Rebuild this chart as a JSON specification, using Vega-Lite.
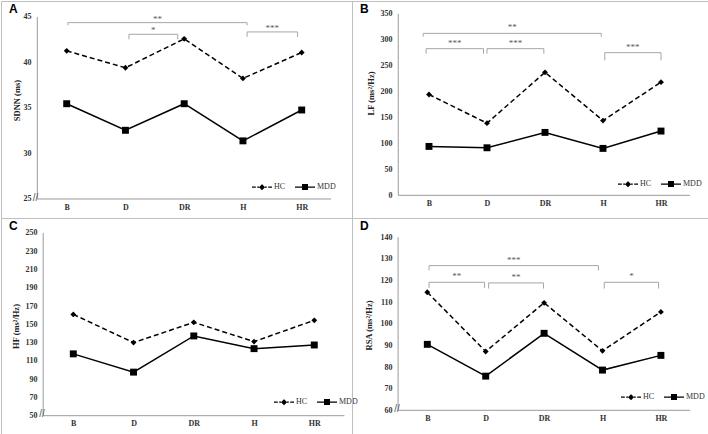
{
  "$schema": "https://vega.github.io/schema/vega-lite/v6.json",
  "padding": 0,
  "background": "white",
  "columns": 2,
  "spacing": 0,
  "bounds": "flush",
  "align": "each",
  "datasets": {
    "series": [
      {"panel": "A", "cond": "B", "i": 0, "group": "HC", "value": 41.28},
      {"panel": "A", "cond": "D", "i": 1, "group": "HC", "value": 39.42},
      {"panel": "A", "cond": "DR", "i": 2, "group": "HC", "value": 42.6},
      {"panel": "A", "cond": "H", "i": 3, "group": "HC", "value": 38.25},
      {"panel": "A", "cond": "HR", "i": 4, "group": "HC", "value": 41.1},
      {"panel": "A", "cond": "B", "i": 0, "group": "MDD", "value": 35.47},
      {"panel": "A", "cond": "D", "i": 1, "group": "MDD", "value": 32.55},
      {"panel": "A", "cond": "DR", "i": 2, "group": "MDD", "value": 35.47},
      {"panel": "A", "cond": "H", "i": 3, "group": "MDD", "value": 31.39},
      {"panel": "A", "cond": "HR", "i": 4, "group": "MDD", "value": 34.78},
      {"panel": "B", "cond": "B", "i": 0, "group": "HC", "value": 194.2},
      {"panel": "B", "cond": "D", "i": 1, "group": "HC", "value": 139},
      {"panel": "B", "cond": "DR", "i": 2, "group": "HC", "value": 237},
      {"panel": "B", "cond": "H", "i": 3, "group": "HC", "value": 144},
      {"panel": "B", "cond": "HR", "i": 4, "group": "HC", "value": 218},
      {"panel": "B", "cond": "B", "i": 0, "group": "MDD", "value": 94.2},
      {"panel": "B", "cond": "D", "i": 1, "group": "MDD", "value": 91.6},
      {"panel": "B", "cond": "DR", "i": 2, "group": "MDD", "value": 121.2},
      {"panel": "B", "cond": "H", "i": 3, "group": "MDD", "value": 90.4},
      {"panel": "B", "cond": "HR", "i": 4, "group": "MDD", "value": 123.8},
      {"panel": "C", "cond": "B", "i": 0, "group": "HC", "value": 160.9},
      {"panel": "C", "cond": "D", "i": 1, "group": "HC", "value": 130},
      {"panel": "C", "cond": "DR", "i": 2, "group": "HC", "value": 152.2},
      {"panel": "C", "cond": "H", "i": 3, "group": "HC", "value": 131.1},
      {"panel": "C", "cond": "HR", "i": 4, "group": "HC", "value": 154.4},
      {"panel": "C", "cond": "B", "i": 0, "group": "MDD", "value": 117.7},
      {"panel": "C", "cond": "D", "i": 1, "group": "MDD", "value": 97.7},
      {"panel": "C", "cond": "DR", "i": 2, "group": "MDD", "value": 137.3},
      {"panel": "C", "cond": "H", "i": 3, "group": "MDD", "value": 123.4},
      {"panel": "C", "cond": "HR", "i": 4, "group": "MDD", "value": 127.4},
      {"panel": "D", "cond": "B", "i": 0, "group": "HC", "value": 114.6},
      {"panel": "D", "cond": "D", "i": 1, "group": "HC", "value": 87.2},
      {"panel": "D", "cond": "DR", "i": 2, "group": "HC", "value": 109.7},
      {"panel": "D", "cond": "H", "i": 3, "group": "HC", "value": 87.5},
      {"panel": "D", "cond": "HR", "i": 4, "group": "HC", "value": 105.5},
      {"panel": "D", "cond": "B", "i": 0, "group": "MDD", "value": 90.5},
      {"panel": "D", "cond": "D", "i": 1, "group": "MDD", "value": 75.8},
      {"panel": "D", "cond": "DR", "i": 2, "group": "MDD", "value": 95.6},
      {"panel": "D", "cond": "H", "i": 3, "group": "MDD", "value": 78.6},
      {"panel": "D", "cond": "HR", "i": 4, "group": "MDD", "value": 85.4}
    ],
    "brackets": [
      {"panel": "A", "x1": 0.02, "x2": 3.07, "mid": 1.545, "y": 44.38, "yEnd": 44.09, "label": "**"},
      {"panel": "A", "x1": 1.06, "x2": 1.89, "mid": 1.475, "y": 43.1, "yEnd": 42.55, "label": "*"},
      {"panel": "A", "x1": 3.07, "x2": 3.93, "mid": 3.5, "y": 43.36, "yEnd": 42.81, "label": "***"},
      {"panel": "B", "x1": -0.1, "x2": 2.97, "mid": 1.435, "y": 312.1, "yEnd": 305.7, "label": "**"},
      {"panel": "B", "x1": -0.05, "x2": 0.94, "mid": 0.445, "y": 282.6, "yEnd": 272.9, "label": "***"},
      {"panel": "B", "x1": 1.0, "x2": 1.98, "mid": 1.49, "y": 282.6, "yEnd": 272.9, "label": "***"},
      {"panel": "B", "x1": 3.03, "x2": 4.0, "mid": 3.515, "y": 274.9, "yEnd": 260.1, "label": "***"},
      {"panel": "D", "x1": 0.03, "x2": 2.93, "mid": 1.48, "y": 126.9, "yEnd": 124.7, "label": "***"},
      {"panel": "D", "x1": 0.03, "x2": 0.98, "mid": 0.505, "y": 119.2, "yEnd": 116.6, "label": "**"},
      {"panel": "D", "x1": 1.05, "x2": 1.99, "mid": 1.52, "y": 118.9, "yEnd": 116.3, "label": "**"},
      {"panel": "D", "x1": 3.03, "x2": 3.96, "mid": 3.495, "y": 119.2, "yEnd": 116.3, "label": "*"}
    ]
  },
  "concat": [
    {
      "width": 351, "height": 217,
      "title": {"text": "A"},
      "layer": [
        {"data": {"values": [{}]}, "mark": {"type": "rule", "color": "#9a9a9a", "strokeWidth": 1},
         "encoding": {"x": {"datum": -0.5, "type": "quantitative"}, "y": {"datum": 25, "type": "quantitative"}, "y2": {"datum": 45}}},
        {"data": {"values": [{}]}, "mark": {"type": "rule", "color": "#9a9a9a", "strokeWidth": 1},
         "encoding": {"x": {"datum": -0.5, "type": "quantitative"}, "x2": {"datum": 4.5}, "y": {"datum": 25, "type": "quantitative"}}},
        {"data": {"values": [{}]}, "mark": {"type": "text", "text": "//", "font": "Liberation Sans", "fontSize": 10, "color": "#555", "align": "center", "baseline": "middle"},
         "encoding": {"x": {"datum": -0.53, "type": "quantitative"}, "y": {"datum": 25.1, "type": "quantitative"}}},
        {"data": {"name": "brackets"}, "transform": [{"filter": "datum.panel === 'A'"}],
         "layer": [
           {"mark": {"type": "rule", "color": "#a6a6a6", "strokeWidth": 1}, "encoding": {"x": {"field": "x1", "type": "quantitative"}, "x2": {"field": "x2"}, "y": {"field": "y", "type": "quantitative"}}},
           {"mark": {"type": "rule", "color": "#a6a6a6", "strokeWidth": 1}, "encoding": {"x": {"field": "x1", "type": "quantitative"}, "y": {"field": "y", "type": "quantitative"}, "y2": {"field": "yEnd"}}},
           {"mark": {"type": "rule", "color": "#a6a6a6", "strokeWidth": 1}, "encoding": {"x": {"field": "x2", "type": "quantitative"}, "y": {"field": "y", "type": "quantitative"}, "y2": {"field": "yEnd"}}},
           {"mark": {"type": "text", "font": "Liberation Serif", "fontSize": 9, "color": "#595959", "baseline": "alphabetic", "dy": -1}, "encoding": {"x": {"field": "mid", "type": "quantitative"}, "y": {"field": "y", "type": "quantitative"}, "text": {"field": "label"}}}
         ]},
        {"data": {"name": "series"}, "transform": [{"filter": "datum.panel === 'A'"}],
         "layer": [
           {"transform": [{"filter": "datum.group === 'HC'"}], "mark": {"type": "line", "color": "black", "strokeWidth": 1.5, "strokeDash": [5, 3]},
            "encoding": {
              "x": {"field": "i", "type": "quantitative", "scale": {"domain": [-1.118, 4.856], "nice": false, "zero": false},
                    "axis": {"title": null, "values": [0, 1, 2, 3, 4], "tickCount": 20, "labelExpr": "['B','D','DR','H','HR'][datum.value]", "offset": -19}},
              "y": {"field": "value", "type": "quantitative", "scale": {"domain": [22.912, 46.758], "nice": false, "zero": false},
                    "axis": {"title": "SDNN (ms)", "values": [25, 30, 35, 40, 45], "tickCount": 20, "offset": -36, "titleX": -21, "titleY": 99}}
            }},
           {"transform": [{"filter": "datum.group === 'MDD'"}], "mark": {"type": "line", "color": "black", "strokeWidth": 1.5},
            "encoding": {"x": {"field": "i", "type": "quantitative"}, "y": {"field": "value", "type": "quantitative"}}},
           {"transform": [{"filter": "datum.group === 'HC'"}], "mark": {"type": "point", "shape": "diamond", "filled": true, "color": "black", "opacity": 1, "size": 34},
            "encoding": {"x": {"field": "i", "type": "quantitative"}, "y": {"field": "value", "type": "quantitative"}}},
           {"transform": [{"filter": "datum.group === 'MDD'"}], "mark": {"type": "point", "shape": "square", "filled": true, "color": "black", "opacity": 1, "size": 48},
            "encoding": {"x": {"field": "i", "type": "quantitative"}, "y": {"field": "value", "type": "quantitative"}}},
           {"transform": [{"filter": "datum.group === 'legend only'"}], "mark": {"type": "point", "filled": false, "color": "black", "strokeWidth": 1.2, "opacity": 1, "size": 400},
            "encoding": {"shape": {"field": "group", "type": "nominal", "scale": {"domain": ["HC", "MDD"], "range": ["M-1,0L-0.62,0M-0.48,0L-0.3,0M0.3,0L0.48,0M0.62,0L1,0M0,-0.22L0.22,0L0,0.22L-0.22,0ZM-0.12,-0.1L0.12,-0.1M-0.22,0L0.22,0M-0.12,0.1L0.12,0.1", "M-1,0L1,0M-0.24,-0.24L0.24,-0.24L0.24,0.24L-0.24,0.24ZM-0.24,-0.12L0.24,-0.12M-0.24,0.12L0.24,0.12"]},
              "legend": {"legendX": 250, "legendY": 175, "encode": {"symbols": {"stroke": {"value": "black"}, "strokeWidth": {"value": 1.2}}}}}}}
         ]}
      ]
    },
    {
      "width": 356, "height": 217,
      "title": {"text": "B"},
      "layer": [
        {"data": {"values": [{}]}, "mark": {"type": "rule", "color": "#9a9a9a", "strokeWidth": 1},
         "encoding": {"x": {"datum": -0.53, "type": "quantitative"}, "y": {"datum": 0, "type": "quantitative"}, "y2": {"datum": 350}}},
        {"data": {"values": [{}]}, "mark": {"type": "rule", "color": "#9a9a9a", "strokeWidth": 1},
         "encoding": {"x": {"datum": -0.53, "type": "quantitative"}, "x2": {"datum": 4.5}, "y": {"datum": 0, "type": "quantitative"}}},
        {"data": {"name": "brackets"}, "transform": [{"filter": "datum.panel === 'B'"}],
         "layer": [
           {"mark": {"type": "rule", "color": "#a6a6a6", "strokeWidth": 1}, "encoding": {"x": {"field": "x1", "type": "quantitative"}, "x2": {"field": "x2"}, "y": {"field": "y", "type": "quantitative"}}},
           {"mark": {"type": "rule", "color": "#a6a6a6", "strokeWidth": 1}, "encoding": {"x": {"field": "x1", "type": "quantitative"}, "y": {"field": "y", "type": "quantitative"}, "y2": {"field": "yEnd"}}},
           {"mark": {"type": "rule", "color": "#a6a6a6", "strokeWidth": 1}, "encoding": {"x": {"field": "x2", "type": "quantitative"}, "y": {"field": "y", "type": "quantitative"}, "y2": {"field": "yEnd"}}},
           {"mark": {"type": "text", "font": "Liberation Serif", "fontSize": 9, "color": "#595959", "baseline": "alphabetic", "dy": -3}, "encoding": {"x": {"field": "mid", "type": "quantitative"}, "y": {"field": "y", "type": "quantitative"}, "text": {"field": "label"}}}
         ]},
        {"data": {"name": "series"}, "transform": [{"filter": "datum.panel === 'B'"}],
         "layer": [
           {"transform": [{"filter": "datum.group === 'HC'"}], "mark": {"type": "line", "color": "black", "strokeWidth": 1.5, "strokeDash": [5, 3]},
            "encoding": {
              "x": {"field": "i", "type": "quantitative", "scale": {"domain": [-1.3276, 4.8103], "nice": false, "zero": false},
                    "axis": {"title": null, "values": [0, 1, 2, 3, 4], "tickCount": 20, "labelExpr": "['B','D','DR','H','HR'][datum.value]", "offset": -22.7}},
              "y": {"field": "value", "type": "quantitative", "scale": {"domain": [-43.75, 374.47], "nice": false, "zero": false},
                    "axis": {"title": "LF (ms²/Hz)", "values": [0, 50, 100, 150, 200, 250, 300, 350], "tickCount": 20, "offset": -46, "titleX": -28, "titleY": 92}}
            }},
           {"transform": [{"filter": "datum.group === 'MDD'"}], "mark": {"type": "line", "color": "black", "strokeWidth": 1.5},
            "encoding": {"x": {"field": "i", "type": "quantitative"}, "y": {"field": "value", "type": "quantitative"}}},
           {"transform": [{"filter": "datum.group === 'HC'"}], "mark": {"type": "point", "shape": "diamond", "filled": true, "color": "black", "opacity": 1, "size": 34},
            "encoding": {"x": {"field": "i", "type": "quantitative"}, "y": {"field": "value", "type": "quantitative"}}},
           {"transform": [{"filter": "datum.group === 'MDD'"}], "mark": {"type": "point", "shape": "square", "filled": true, "color": "black", "opacity": 1, "size": 48},
            "encoding": {"x": {"field": "i", "type": "quantitative"}, "y": {"field": "value", "type": "quantitative"}}},
           {"transform": [{"filter": "datum.group === 'legend only'"}], "mark": {"type": "point", "filled": false, "color": "black", "strokeWidth": 1.2, "opacity": 1, "size": 400},
            "encoding": {"shape": {"field": "group", "type": "nominal", "scale": {"domain": ["HC", "MDD"], "range": ["M-1,0L-0.62,0M-0.48,0L-0.3,0M0.3,0L0.48,0M0.62,0L1,0M0,-0.22L0.22,0L0,0.22L-0.22,0ZM-0.12,-0.1L0.12,-0.1M-0.22,0L0.22,0M-0.12,0.1L0.12,0.1", "M-1,0L1,0M-0.24,-0.24L0.24,-0.24L0.24,0.24L-0.24,0.24ZM-0.24,-0.12L0.24,-0.12M-0.24,0.12L0.24,0.12"]},
              "legend": {"legendX": 265, "legendY": 172, "encode": {"symbols": {"stroke": {"value": "black"}, "strokeWidth": {"value": 1.2}}}}}}}
         ]}
      ]
    },
    {
      "width": 351, "height": 217,
      "title": {"text": "C"},
      "layer": [
        {"data": {"values": [{}]}, "mark": {"type": "rule", "color": "#9a9a9a", "strokeWidth": 1},
         "encoding": {"x": {"datum": -0.5, "type": "quantitative"}, "y": {"datum": 50, "type": "quantitative"}, "y2": {"datum": 250}}},
        {"data": {"values": [{}]}, "mark": {"type": "rule", "color": "#9a9a9a", "strokeWidth": 1},
         "encoding": {"x": {"datum": -0.5, "type": "quantitative"}, "x2": {"datum": 4.5}, "y": {"datum": 50, "type": "quantitative"}}},
        {"data": {"values": [{}]}, "mark": {"type": "text", "text": "//", "font": "Liberation Sans", "fontSize": 10, "color": "#555", "align": "center", "baseline": "middle"},
         "encoding": {"x": {"datum": -0.52, "type": "quantitative"}, "y": {"datum": 52, "type": "quantitative"}}},
        {"data": {"name": "series"}, "transform": [{"filter": "datum.panel === 'C'"}],
         "layer": [
           {"transform": [{"filter": "datum.group === 'HC'"}], "mark": {"type": "line", "color": "black", "strokeWidth": 1.5, "strokeDash": [5, 3]},
            "encoding": {
              "x": {"field": "i", "type": "quantitative", "scale": {"domain": [-1.2, 4.626], "nice": false, "zero": false},
                    "axis": {"title": null, "values": [0, 1, 2, 3, 4], "tickCount": 20, "labelExpr": "['B','D','DR','H','HR'][datum.value]", "offset": -19.3}},
              "y": {"field": "value", "type": "quantitative", "scale": {"domain": [28.87, 266.42], "nice": false, "zero": false},
                    "axis": {"title": "HF (ms²/Hz)", "values": [50, 70, 90, 110, 130, 150, 170, 190, 210, 230, 250], "tickCount": 20, "offset": -42, "titleX": -28, "titleY": 108}}
            }},
           {"transform": [{"filter": "datum.group === 'MDD'"}], "mark": {"type": "line", "color": "black", "strokeWidth": 1.5},
            "encoding": {"x": {"field": "i", "type": "quantitative"}, "y": {"field": "value", "type": "quantitative"}}},
           {"transform": [{"filter": "datum.group === 'HC'"}], "mark": {"type": "point", "shape": "diamond", "filled": true, "color": "black", "opacity": 1, "size": 34},
            "encoding": {"x": {"field": "i", "type": "quantitative"}, "y": {"field": "value", "type": "quantitative"}}},
           {"transform": [{"filter": "datum.group === 'MDD'"}], "mark": {"type": "point", "shape": "square", "filled": true, "color": "black", "opacity": 1, "size": 48},
            "encoding": {"x": {"field": "i", "type": "quantitative"}, "y": {"field": "value", "type": "quantitative"}}},
           {"transform": [{"filter": "datum.group === 'legend only'"}], "mark": {"type": "point", "filled": false, "color": "black", "strokeWidth": 1.2, "opacity": 1, "size": 400},
            "encoding": {"shape": {"field": "group", "type": "nominal", "scale": {"domain": ["HC", "MDD"], "range": ["M-1,0L-0.62,0M-0.48,0L-0.3,0M0.3,0L0.48,0M0.62,0L1,0M0,-0.22L0.22,0L0,0.22L-0.22,0ZM-0.12,-0.1L0.12,-0.1M-0.22,0L0.22,0M-0.12,0.1L0.12,0.1", "M-1,0L1,0M-0.24,-0.24L0.24,-0.24L0.24,0.24L-0.24,0.24ZM-0.24,-0.12L0.24,-0.12M-0.24,0.12L0.24,0.12"]},
              "legend": {"legendX": 272, "legendY": 173, "encode": {"symbols": {"stroke": {"value": "black"}, "strokeWidth": {"value": 1.2}}}}}}}
         ]}
      ]
    },
    {
      "width": 356, "height": 217,
      "title": {"text": "D"},
      "layer": [
        {"data": {"values": [{}]}, "mark": {"type": "rule", "color": "#9a9a9a", "strokeWidth": 1},
         "encoding": {"x": {"datum": -0.5, "type": "quantitative"}, "y": {"datum": 60, "type": "quantitative"}, "y2": {"datum": 140}}},
        {"data": {"values": [{}]}, "mark": {"type": "rule", "color": "#9a9a9a", "strokeWidth": 1},
         "encoding": {"x": {"datum": -0.5, "type": "quantitative"}, "x2": {"datum": 4.5}, "y": {"datum": 60, "type": "quantitative"}}},
        {"data": {"values": [{}]}, "mark": {"type": "text", "text": "//", "font": "Liberation Sans", "fontSize": 10, "color": "#555", "align": "center", "baseline": "middle"},
         "encoding": {"x": {"datum": -0.52, "type": "quantitative"}, "y": {"datum": 60.8, "type": "quantitative"}}},
        {"data": {"name": "brackets"}, "transform": [{"filter": "datum.panel === 'D'"}],
         "layer": [
           {"mark": {"type": "rule", "color": "#a6a6a6", "strokeWidth": 1}, "encoding": {"x": {"field": "x1", "type": "quantitative"}, "x2": {"field": "x2"}, "y": {"field": "y", "type": "quantitative"}}},
           {"mark": {"type": "rule", "color": "#a6a6a6", "strokeWidth": 1}, "encoding": {"x": {"field": "x1", "type": "quantitative"}, "y": {"field": "y", "type": "quantitative"}, "y2": {"field": "yEnd"}}},
           {"mark": {"type": "rule", "color": "#a6a6a6", "strokeWidth": 1}, "encoding": {"x": {"field": "x2", "type": "quantitative"}, "y": {"field": "y", "type": "quantitative"}, "y2": {"field": "yEnd"}}},
           {"mark": {"type": "text", "font": "Liberation Serif", "fontSize": 9, "color": "#595959", "baseline": "alphabetic", "dy": -3}, "encoding": {"x": {"field": "mid", "type": "quantitative"}, "y": {"field": "y", "type": "quantitative"}, "text": {"field": "label"}}}
         ]},
        {"data": {"name": "series"}, "transform": [{"filter": "datum.panel === 'D'"}],
         "layer": [
           {"transform": [{"filter": "datum.group === 'HC'"}], "mark": {"type": "line", "color": "black", "strokeWidth": 1.5, "strokeDash": [5, 3]},
            "encoding": {
              "x": {"field": "i", "type": "quantitative", "scale": {"domain": [-1.2894, 4.8065], "nice": false, "zero": false},
                    "axis": {"title": null, "values": [0, 1, 2, 3, 4], "tickCount": 20, "labelExpr": "['B','D','DR','H','HR'][datum.value]", "offset": -24.7}},
              "y": {"field": "value", "type": "quantitative", "scale": {"domain": [48.578, 148.925], "nice": false, "zero": false},
                    "axis": {"title": "RSA (ms²/Hz)", "values": [60, 70, 80, 90, 100, 110, 120, 130, 140], "tickCount": 20, "offset": -46, "titleX": -30, "titleY": 107}}
            }},
           {"transform": [{"filter": "datum.group === 'MDD'"}], "mark": {"type": "line", "color": "black", "strokeWidth": 1.5},
            "encoding": {"x": {"field": "i", "type": "quantitative"}, "y": {"field": "value", "type": "quantitative"}}},
           {"transform": [{"filter": "datum.group === 'HC'"}], "mark": {"type": "point", "shape": "diamond", "filled": true, "color": "black", "opacity": 1, "size": 34},
            "encoding": {"x": {"field": "i", "type": "quantitative"}, "y": {"field": "value", "type": "quantitative"}}},
           {"transform": [{"filter": "datum.group === 'MDD'"}], "mark": {"type": "point", "shape": "square", "filled": true, "color": "black", "opacity": 1, "size": 48},
            "encoding": {"x": {"field": "i", "type": "quantitative"}, "y": {"field": "value", "type": "quantitative"}}},
           {"transform": [{"filter": "datum.group === 'legend only'"}], "mark": {"type": "point", "filled": false, "color": "black", "strokeWidth": 1.2, "opacity": 1, "size": 400},
            "encoding": {"shape": {"field": "group", "type": "nominal", "scale": {"domain": ["HC", "MDD"], "range": ["M-1,0L-0.62,0M-0.48,0L-0.3,0M0.3,0L0.48,0M0.62,0L1,0M0,-0.22L0.22,0L0,0.22L-0.22,0ZM-0.12,-0.1L0.12,-0.1M-0.22,0L0.22,0M-0.12,0.1L0.12,0.1", "M-1,0L1,0M-0.24,-0.24L0.24,-0.24L0.24,0.24L-0.24,0.24ZM-0.24,-0.12L0.24,-0.12M-0.24,0.12L0.24,0.12"]},
              "legend": {"legendX": 268, "legendY": 168, "encode": {"symbols": {"stroke": {"value": "black"}, "strokeWidth": {"value": 1.2}}}}}}}
         ]}
      ]
    }
  ],
  "resolve": {
    "scale": {"x": "independent", "y": "independent", "shape": "independent"},
    "axis": {"x": "independent", "y": "independent"},
    "legend": {"shape": "independent"}
  },
  "config": {
    "view": {"stroke": "#bfbfbf", "strokeWidth": 1},
    "title": {"anchor": "start", "frame": "group", "orient": "top", "offset": -15, "dx": 8, "baseline": "alphabetic", "font": "Liberation Sans", "fontSize": 12, "fontWeight": "bold", "color": "#000"},
    "axis": {
      "domain": false, "ticks": false, "grid": false, "labelOverlap": false,
      "labelFont": "Liberation Serif", "labelFontWeight": "bold", "labelFontSize": 8, "labelColor": "#333",
      "titleFont": "Liberation Serif", "titleFontWeight": "bold", "titleFontSize": 8.5, "titleColor": "#222"
    },
    "axisX": {"labelPadding": 4},
    "axisY": {"labelPadding": 6, "titleBaseline": "middle", "titleAngle": -90, "titleAlign": "center"},
    "legend": {
      "orient": "none", "direction": "horizontal", "title": null,
      "padding": 0, "symbolSize": 400, "labelFont": "Liberation Serif", "labelFontSize": 8, "labelColor": "#333",
      "labelOffset": 1, "columnPadding": 6,
      "symbolStrokeColor": "black", "symbolStrokeWidth": 1.2, "symbolOpacity": 1
    }
  }
}
